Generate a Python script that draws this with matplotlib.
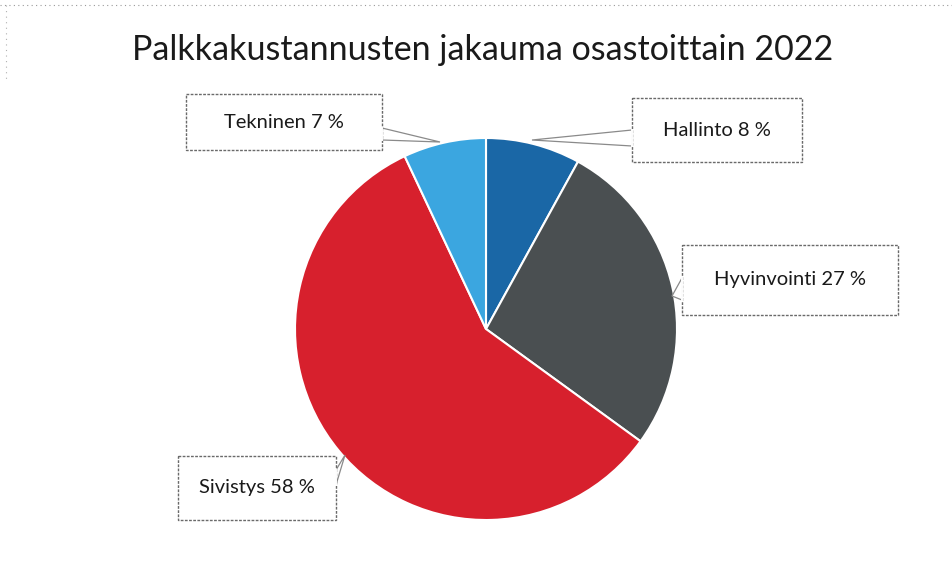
import matplotlib.pyplot as plt
from matplotlib.patches import Polygon

# data
osastot = ['Hallinto', 'Hyvinvointi', 'Sivistys', 'Tekninen']
osuudet = [8, 27, 58, 7]
varit = ['#1a67a6', '#4a4f51', '#d7202d', '#3ba6e0']

W, H = 952, 582
fig = plt.figure(figsize=(W / 100, H / 100), dpi=100)
plt.rcParams['font.family'] = ['Lato', 'DejaVu Sans']

# pie axes: center (486, 329), radius 191 px
cx, cy, r = 486, 329, 191
ax = fig.add_axes([(cx - r) / W, 1 - (cy + r) / H, 2 * r / W, 2 * r / H])
ax.pie(osuudet, colors=varit, startangle=90, counterclock=False,
       wedgeprops=dict(edgecolor='white', linewidth=1.5))
ax.set_xlim(-1, 1)
ax.set_ylim(-1, 1)
ax.set_aspect('equal')

# overlay in pixel coordinates
ov = fig.add_axes([0, 0, 1, 1])
ov.set_xlim(0, W)
ov.set_ylim(H, 0)
ov.axis('off')
ov.patch.set_alpha(0)

ov.text(483, 50, 'Palkkakustannusten jakauma osastoittain 2022',
        ha='center', va='center', fontsize=24.5, color='#1a1a1a')

# scan border dots
ov.plot([0, W], [5, 5], ls=(0, (1, 3)), color='#9a9a9a', lw=0.8)
ov.plot([6, 6], [5, 80], ls=(0, (1, 4)), color='#b0b0b0', lw=0.8)

# callout boxes: (x0, y0, x1, y1), pointer polygon
laatikot = {
    'Tekninen': ((186, 94, 382, 150), [(382, 128), (440, 142), (382, 140)]),
    'Hallinto': ((632, 98, 802, 162), [(632, 130), (532, 140), (632, 146)]),
    'Hyvinvointi': ((682, 245, 898, 315), [(682, 278), (672, 296), (682, 300)]),
    'Sivistys': ((178, 456, 336, 520), [(336, 470), (345, 455), (336, 485)]),
}

for nimi, osuus in zip(osastot, osuudet):
    (x0, y0, x1, y1), kolmio = laatikot[nimi]
    ov.add_patch(Polygon(kolmio, closed=True, facecolor='white',
                         edgecolor='#8a8a8a', lw=0.9))
    ov.add_patch(Polygon([(x0, y0), (x1, y0), (x1, y1), (x0, y1)], closed=True,
                         facecolor='white', edgecolor='#6a6a6a', lw=1.0,
                         linestyle=(0, (2, 1))))
    # cover the line between box and pointer
    ov.plot([kolmio[0][0], kolmio[2][0]], [kolmio[0][1], kolmio[2][1]],
            color='white', lw=1.4)
    ov.text((x0 + x1) / 2, (y0 + y1) / 2, f'{nimi} {osuus} %',
            ha='center', va='center', fontsize=14.5, color='#1a1a1a')

fig.savefig('out.png', dpi=100, facecolor='white')
